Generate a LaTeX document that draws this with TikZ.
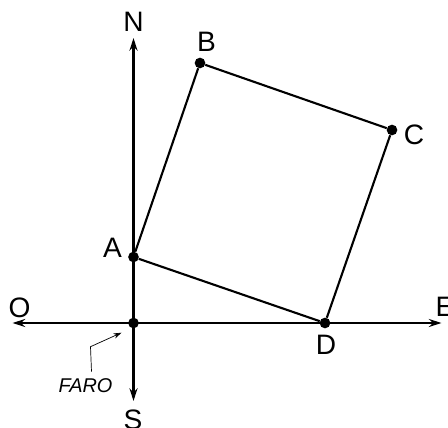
\documentclass[tikz,border=0pt]{standalone}
\usepackage{fontspec}
\setmainfont{Liberation Sans}
\usetikzlibrary{positioning, arrows.meta}

\begin{document}
\begin{tikzpicture}[
        x=0.03cm, y=0.03cm,
        axis/.style={line width=1.9pt, {Stealth[length=0.38cm, width=0.24cm]}-{Stealth[length=0.38cm, width=0.24cm]}},
        side/.style={line width=1.8pt},
        pt/.style={circle, fill=black, inner sep=0pt, minimum size=0.32cm},
        lbl/.style={inner sep=0pt, font=\fontsize{24}{28}\selectfont},
        faro/.style={inner sep=0pt, font=\fontsize{17}{20}\selectfont\itshape}
    ]
    \useasboundingbox (-133.5,-105) rectangle (314.5,323);

    % --- Axis ends ---
    \coordinate (tipN) at (0,285);
    \coordinate (tipS) at (0,-78);
    \coordinate (tipO) at (-121,0);
    \coordinate (tipE) at (308,0);

    % --- Points ---
    \node[pt] (F) at (0,0) {};
    \node[pt] (A) at (0,66) {};
    \node[pt] (B) at (66.5,260) {};
    \node[pt] (C) at (258.5,193) {};
    \node[pt] (D) at (191.5,0) {};

    % --- Axes ---
    \draw[axis] (tipO) -- (tipE);
    \draw[axis] (tipS) -- (tipN);

    % --- Square ABCD ---
    \draw[side] (A) -- (B) -- (C) -- (D) -- (A);

    % --- Labels ---
    \node[lbl] (labN) at (0,301) {N};
    \node[lbl, anchor=north] (labS) at (-0.5,-87) {S};
    \node[lbl] (labO) at (-114,15.5) {O};
    \node[lbl] (labE) at (311.5,16) {E};
    \node[lbl] (labA) at (-21,75.5) {A};
    \node[lbl] (labB) at (73,281) {B};
    \node[lbl] (labC) at (280.5,188) {C};
    \node[lbl] (labD) at (192.5,-22) {D};

    % --- Lighthouse ---
    \node[faro] (labF) at (-48,-62.5) {FARO};
    \coordinate (foot) at (-42,-48.7);
    \coordinate (bend) at (-43,-23.7);
    \coordinate (aim) at (-12,-9.7);
    \draw[line width=0.6pt, -{Stealth[length=0.24cm, width=0.16cm]}] (foot) -- (bend) -- (aim);
\end{tikzpicture}
\end{document}
